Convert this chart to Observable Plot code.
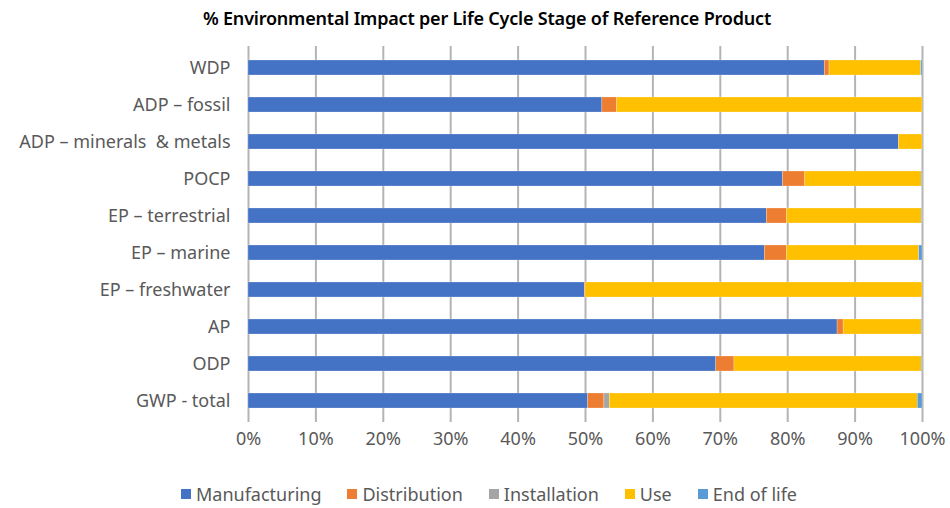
<!DOCTYPE html>
<html>
<head>
<meta charset="utf-8">
<script src="https://cdn.jsdelivr.net/npm/d3@7"></script>
<script src="https://cdn.jsdelivr.net/npm/@observablehq/plot@0.6"></script>
<style>
  body { margin: 0; background: #fff; font-family: "Noto Sans", sans-serif; }
  #title { height: 36px; line-height: 36px; text-align: center; font-size: 18px; font-weight: 600; color: #000; padding-left: 24px; box-sizing: border-box; letter-spacing: -0.2px; }
  #legend { display: flex; justify-content: center; gap: 26px; font-size: 18px; color: #595959; margin-top: 16px; padding-left: 28px; }
  #legend span.sw { display: inline-block; width: 10px; height: 10px; margin-right: 5px; vertical-align: 2px; }
</style>
</head>
<body>
<div id="title">% Environmental Impact per Life Cycle Stage of Reference Product</div>
<div id="chart"></div>
<div id="legend"></div>
<script>
const categories = ["WDP", "ADP – fossil", "ADP – minerals  & metals", "POCP", "EP – terrestrial", "EP – marine", "EP – freshwater", "AP", "ODP", "GWP - total"];
const stages = ["Manufacturing", "Distribution", "Installation", "Use", "End of life"];
const colors = ["#4472C4", "#ED7D31", "#A5A5A5", "#FFC000", "#5B9BD5"];
const manufacturing = [85.5, 52.5, 96.5, 79.3, 76.9, 76.6, 49.9, 87.4, 69.4, 50.4];
const distribution  = [0.7, 2.2, 0, 3.3, 3.0, 3.3, 0.1, 0.9, 2.7, 2.4];
const installation  = [0, 0, 0, 0, 0, 0, 0, 0, 0, 0.8];
const use           = [13.6, 45.3, 3.5, 17.3, 20.0, 19.6, 50.0, 11.6, 27.8, 45.7];
const endOfLife     = [0.2, 0, 0, 0.1, 0.1, 0.5, 0, 0.1, 0.1, 0.7];
const xTicks = [0, 10, 20, 30, 40, 50, 60, 70, 80, 90, 100];

const seriesValues = [manufacturing, distribution, installation, use, endOfLife];
const data = [];
stages.forEach((s, i) => categories.forEach((c, j) => data.push({stage: s, category: c, value: seriesValues[i][j]})));

const chart = Plot.plot({
  width: 950,
  height: 430,
  marginLeft: 248,
  marginRight: 28,
  marginTop: 10,
  marginBottom: 44,
  style: {fontFamily: "Noto Sans, sans-serif", fontSize: "18px", color: "#595959"},
  x: {domain: [0, 100], ticks: xTicks, tickFormat: d => d + "%", label: null, tickSize: 0, tickPadding: 10},
  y: {domain: categories, paddingInner: 0.6, paddingOuter: 0.3, label: null, tickSize: 0, tickPadding: 18},
  color: {domain: stages, range: colors},
  marks: [
    Plot.ruleX(xTicks, {x: d => d, stroke: "#b4b4b4", strokeWidth: 2}),
    Plot.barX(data, Plot.stackX({y: "category", x: "value", fill: "stage", order: null, stroke: "#ffffff", strokeOpacity: 0.4, strokeWidth: 0.6})),
  ]
});
chart.querySelectorAll("text").forEach(t => t.setAttribute("fill", "#595959"));
document.getElementById("chart").appendChild(chart);

const legend = document.getElementById("legend");
stages.forEach((s, i) => {
  const d = document.createElement("div");
  d.innerHTML = `<span class="sw" style="background:${colors[i]}"></span>${s}`;
  legend.appendChild(d);
});
</script>
</body>
</html>
